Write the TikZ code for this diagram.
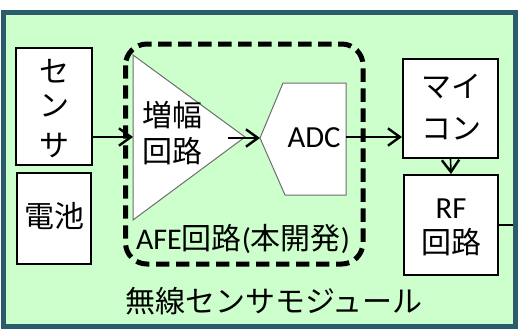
\documentclass[tikz,border=0pt]{standalone}
\usepackage{fontspec}
\setmainfont{Noto Sans CJK JP}
\newfontfamily\lat{Carlito}
\usetikzlibrary{arrows.meta}
\definecolor{bgreen}{RGB}{204,255,204}
\definecolor{tealb}{RGB}{42,92,108}
\definecolor{shapegray}{RGB}{110,110,110}
\begin{document}
\begin{tikzpicture}[x=0.75pt,y=-0.75pt,
  box/.style={draw=black, line width=1.5pt, fill=white, inner sep=0pt},
  txt/.style={inner sep=0pt, font=\fontsize{22.5}{26}\selectfont, text height=0.83em, text depth=0.07em},
  lattxt/.style={inner sep=0pt, font=\lat\fontsize{23}{26}\selectfont},
  shp/.style={draw=shapegray, line width=0.75pt, fill=white},
  arr/.style={line width=1.2pt, -{Straight Barb[length=9pt,width=13pt,line width=1.8pt]}}]
\useasboundingbox (0,0) rectangle (521,333);
% outer module
\draw[tealb, fill=bgreen, line width=3.75pt] (3.5,12.5) rectangle (515.5,326);
% AFE dashed region
\draw[line width=3.75pt, dash pattern=on 10pt off 5pt, rounded corners=16pt] (125.5,44) rectangle (363,264);
% boxes
\node[box, minimum width=57pt, minimum height=87.75pt] (sensor) at (54,106.5) {};
\node[box, minimum width=55.5pt, minimum height=68.25pt] (battery) at (54,218.5) {};
\node[box, minimum width=71.25pt, minimum height=74.25pt] (mcu) at (450.5,108.5) {};
\node[box, minimum width=70.5pt, minimum height=75pt] (rf) at (451,225) {};
% amplifier triangle
\coordinate (ampin) at (133,137);
\coordinate (amptip) at (245,137);
\draw[shp] (133,55) -- (amptip) -- (133,220) -- cycle;
% ADC pentagon
\coordinate (adcin) at (260,138);
\coordinate (adcout) at (346,137);
\draw[shp] (283,83) -- (346,83) -- (346,195) -- (285,195) -- (adcin) -- cycle;
% texts
\node[txt] (t1) at (54,77) {セ};
\node[txt] (t2) at (54,111) {ン};
\node[txt] (t3) at (54,151) {サ};
\node[txt] (t4) at (54,222) {電池};
\node[txt] (t5) at (172,121) {増幅};
\node[txt] (t6) at (172,157) {回路};
\node[lattxt] (t7) at (314,138) {ADC};
\node[txt] (t8) at (451,92) {マイ};
\node[txt] (t9) at (451,134) {コン};
\node[lattxt] (t10) at (451,209) {RF};
\node[txt] (t11) at (451,248) {回路};
\node[txt] (t12) at (243,244) {{\lat AFE}回路{\lat (}本開発{\lat )}};
\node[txt] (t13) at (274,307) {無線センサモジュール};
% connectors
\coordinate (ampout) at (228,138);
\coordinate (edge) at (513,225);
\draw[arr] (sensor.east |- ampin) -- (ampin);
\draw[arr] (ampout) -- (adcin);
\draw[arr] (adcout) -- (mcu.west |- adcout);
\draw[arr] (mcu.south) -- (rf.north);
\draw[line width=1.2pt] (rf.east) -- (edge);
\end{tikzpicture}
\end{document}
